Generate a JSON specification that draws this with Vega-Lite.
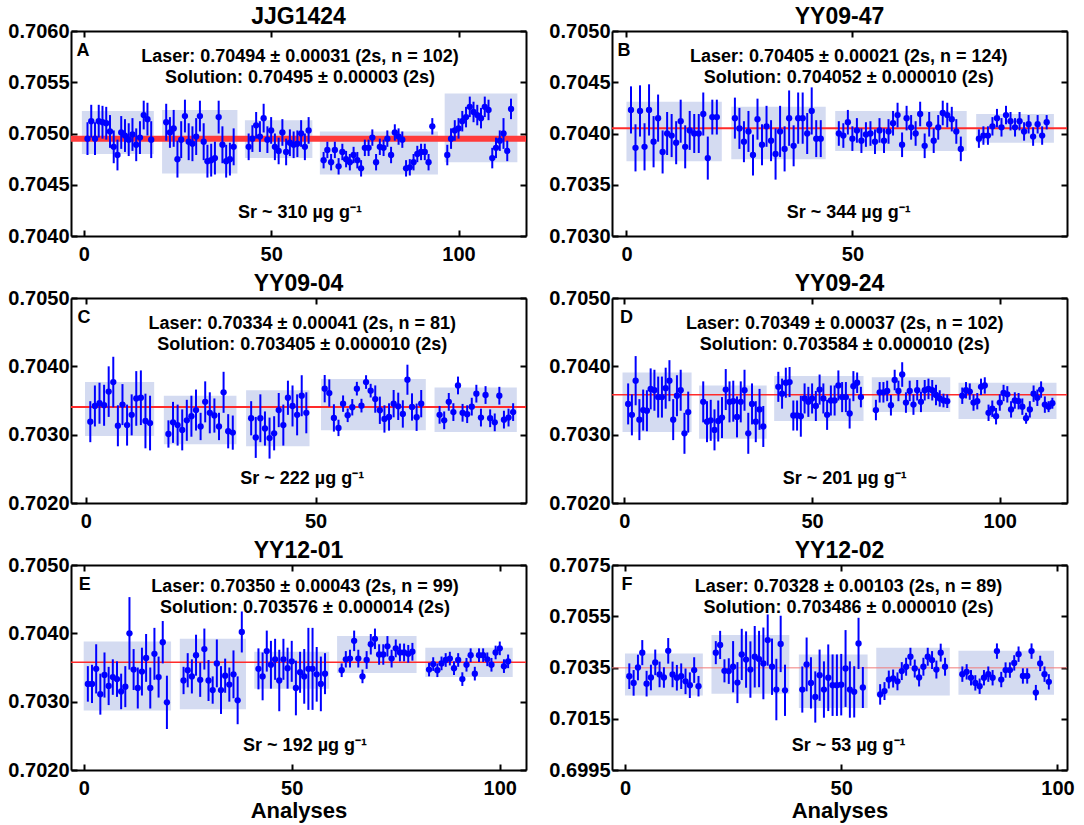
{
"$schema": "https://vega.github.io/schema/vega-lite/v6.json",
"background": "white",
"padding": {"left": 7, "top": 6, "right": 5, "bottom": 2},
"config": {
  "font": "Liberation Sans",
  "view": {"stroke": null},
  "axis": {"domain": true, "domainColor": "black", "domainWidth": 2, "grid": false, "labelFont": "Liberation Sans", "labelFontSize": 20, "labelFontWeight": "bold", "labelColor": "black", "tickColor": "black", "tickWidth": 2, "tickSize": -6, "labelPadding": 14, "titleFont": "Liberation Sans", "titleFontSize": 22, "titleFontWeight": "bold", "titleColor": "black", "titlePadding": 2},
  "axisY": {"labelPadding": 8},
  "title": {"font": "Liberation Sans", "fontSize": 23, "fontWeight": "bold", "color": "black", "anchor": "middle", "offset": -8},
  "text": {"font": "Liberation Sans", "fontSize": 18, "fontWeight": "bold", "color": "black", "baseline": "middle"}
},
"datasets": {
"one": [{}],
"pA": [{"x":1,"y":0.70495,"e":0.00016},{"x":2,"y":0.70512,"e":0.00016},{"x":3,"y":0.70495,"e":0.00016},{"x":4,"y":0.70512,"e":0.00016},{"x":5,"y":0.70511,"e":0.00016},{"x":6,"y":0.7051,"e":0.00016},{"x":7,"y":0.70502,"e":0.00016},{"x":8,"y":0.70487,"e":0.00016},{"x":9,"y":0.70479,"e":0.00015},{"x":10,"y":0.70501,"e":0.00016},{"x":11,"y":0.70498,"e":0.00016},{"x":12,"y":0.70494,"e":0.00016},{"x":13,"y":0.70499,"e":0.00016},{"x":14,"y":0.70489,"e":0.00016},{"x":15,"y":0.70496,"e":0.00016},{"x":16,"y":0.70518,"e":0.00014},{"x":17,"y":0.70514,"e":0.00016},{"x":18,"y":0.70494,"e":0.00018},
{"x":22,"y":0.70511,"e":0.00018},{"x":23,"y":0.70501,"e":0.00015},{"x":24,"y":0.70505,"e":0.00018},{"x":25,"y":0.70475,"e":0.00018},{"x":26,"y":0.70494,"e":0.00018},{"x":27,"y":0.70517,"e":0.00016},{"x":28,"y":0.70492,"e":0.00018},{"x":29,"y":0.7049,"e":0.00017},{"x":30,"y":0.70497,"e":0.00018},{"x":31,"y":0.70517,"e":0.00015},{"x":32,"y":0.70492,"e":0.00018},{"x":33,"y":0.70473,"e":0.00016},{"x":34,"y":0.70474,"e":0.00016},{"x":35,"y":0.70476,"e":0.00016},{"x":36,"y":0.70516,"e":0.00016},{"x":37,"y":0.70489,"e":0.00018},{"x":38,"y":0.70473,"e":0.00016},{"x":39,"y":0.70475,"e":0.00016},{"x":40,"y":0.70487,"e":0.00018},
{"x":44,"y":0.70487,"e":0.00013},{"x":45,"y":0.70495,"e":0.00013},{"x":46,"y":0.70508,"e":0.00013},{"x":47,"y":0.70497,"e":0.00015},{"x":48,"y":0.70515,"e":0.00014},{"x":49,"y":0.70494,"e":0.00013},{"x":50,"y":0.70503,"e":0.00013},{"x":51,"y":0.70487,"e":0.00013},{"x":52,"y":0.70483,"e":0.00013},{"x":53,"y":0.70501,"e":0.00013},{"x":54,"y":0.70482,"e":0.00013},{"x":55,"y":0.70491,"e":0.00013},{"x":56,"y":0.70489,"e":0.00013},{"x":57,"y":0.7049,"e":0.00013},{"x":58,"y":0.705,"e":0.00013},{"x":59,"y":0.70487,"e":0.00013},{"x":60,"y":0.70503,"e":0.00013},
{"x":64,"y":0.70474,"e":0.00008},{"x":65,"y":0.70484,"e":0.00008},{"x":66,"y":0.70472,"e":0.00008},{"x":67,"y":0.70484,"e":0.00008},{"x":68,"y":0.70468,"e":0.00008},{"x":69,"y":0.70482,"e":0.00008},{"x":70,"y":0.70475,"e":0.00008},{"x":71,"y":0.70472,"e":0.00008},{"x":72,"y":0.70479,"e":0.00008},{"x":73,"y":0.70474,"e":0.00008},{"x":74,"y":0.70466,"e":0.00008},{"x":75,"y":0.70486,"e":0.00008},{"x":76,"y":0.70486,"e":0.00008},{"x":77,"y":0.70496,"e":0.00008},{"x":78,"y":0.70472,"e":0.00008},{"x":79,"y":0.70487,"e":0.00008},{"x":80,"y":0.70486,"e":0.00008},{"x":81,"y":0.70495,"e":0.00008},{"x":82,"y":0.70479,"e":0.00008},{"x":83,"y":0.70501,"e":0.00008},{"x":84,"y":0.70497,"e":0.00008},{"x":85,"y":0.70494,"e":0.00008},{"x":86,"y":0.70466,"e":0.00008},{"x":87,"y":0.70467,"e":0.00008},{"x":88,"y":0.70472,"e":0.00008},{"x":89,"y":0.7048,"e":0.00008},{"x":90,"y":0.70482,"e":0.00008},{"x":91,"y":0.70482,"e":0.00008},{"x":92,"y":0.70472,"e":0.00008},{"x":93,"y":0.70507,"e":0.00008},
{"x":97,"y":0.70479,"e":0.0001},{"x":98,"y":0.70495,"e":0.0001},{"x":99,"y":0.70503,"e":0.0001},{"x":100,"y":0.70505,"e":0.0001},{"x":101,"y":0.70512,"e":0.0001},{"x":102,"y":0.70516,"e":0.0001},{"x":103,"y":0.70526,"e":0.0001},{"x":104,"y":0.70521,"e":0.0001},{"x":105,"y":0.70518,"e":0.0001},{"x":106,"y":0.70515,"e":0.0001},{"x":107,"y":0.70526,"e":0.0001},{"x":108,"y":0.70523,"e":0.0001},{"x":109,"y":0.70476,"e":0.0001},{"x":110,"y":0.70486,"e":0.0001},{"x":111,"y":0.70493,"e":0.0001},{"x":112,"y":0.705,"e":0.00015},{"x":113,"y":0.70483,"e":0.0001},{"x":114,"y":0.70524,"e":0.0001}],
"bA": [{"x1":-0.5,"x2":18.7,"y1":0.7048,"y2":0.70522},{"x1":20.9,"x2":41,"y1":0.70461,"y2":0.70523},{"x1":43,"x2":61,"y1":0.70476,"y2":0.70513},{"x1":63,"x2":94.5,"y1":0.7046,"y2":0.70502},{"x1":96.3,"x2":115.7,"y1":0.70472,"y2":0.70539}],
"pB": [{"x":1,"y":0.70423,"e":0.00023},{"x":2,"y":0.70386,"e":0.00023},{"x":3,"y":0.70422,"e":0.00025},{"x":4,"y":0.70387,"e":0.00023},{"x":5,"y":0.70423,"e":0.00025},{"x":6,"y":0.70392,"e":0.00025},{"x":7,"y":0.70415,"e":0.00023},{"x":8,"y":0.70382,"e":0.00021},{"x":9,"y":0.704,"e":0.00021},{"x":10,"y":0.70398,"e":0.00021},{"x":11,"y":0.70391,"e":0.00021},{"x":12,"y":0.70412,"e":0.00021},{"x":13,"y":0.70387,"e":0.00021},{"x":14,"y":0.70403,"e":0.00019},{"x":15,"y":0.704,"e":0.00019},{"x":16,"y":0.704,"e":0.00019},{"x":17,"y":0.70419,"e":0.00021},{"x":18,"y":0.70376,"e":0.00021},{"x":19,"y":0.70416,"e":0.00017},{"x":20,"y":0.70416,"e":0.00017},
{"x":24,"y":0.70415,"e":0.0002},{"x":25,"y":0.70405,"e":0.0002},{"x":26,"y":0.70392,"e":0.0002},{"x":27,"y":0.70402,"e":0.0002},{"x":28,"y":0.70379,"e":0.0002},{"x":29,"y":0.70414,"e":0.0002},{"x":30,"y":0.70389,"e":0.0002},{"x":31,"y":0.70407,"e":0.0002},{"x":32,"y":0.70393,"e":0.0002},{"x":33,"y":0.7038,"e":0.00025},{"x":34,"y":0.70402,"e":0.00025},{"x":35,"y":0.70385,"e":0.00022},{"x":36,"y":0.70415,"e":0.00027},{"x":37,"y":0.70388,"e":0.0002},{"x":38,"y":0.70415,"e":0.00025},{"x":39,"y":0.70415,"e":0.00025},{"x":40,"y":0.704,"e":0.0002},{"x":41,"y":0.70422,"e":0.00023},{"x":42,"y":0.70395,"e":0.00018},{"x":43,"y":0.70395,"e":0.00018},
{"x":47,"y":0.704,"e":0.00012},{"x":48,"y":0.70398,"e":0.00012},{"x":49,"y":0.70411,"e":0.00012},{"x":50,"y":0.70395,"e":0.00012},{"x":51,"y":0.70403,"e":0.00012},{"x":52,"y":0.70393,"e":0.00012},{"x":53,"y":0.70399,"e":0.00012},{"x":54,"y":0.704,"e":0.00012},{"x":55,"y":0.70392,"e":0.00012},{"x":56,"y":0.70403,"e":0.00012},{"x":57,"y":0.70393,"e":0.00012},{"x":58,"y":0.70402,"e":0.00012},{"x":59,"y":0.7041,"e":0.00012},{"x":60,"y":0.70418,"e":0.00012},{"x":61,"y":0.70389,"e":0.00012},{"x":62,"y":0.70415,"e":0.00012},{"x":63,"y":0.70406,"e":0.00012},{"x":64,"y":0.704,"e":0.00012},{"x":65,"y":0.70419,"e":0.00012},{"x":66,"y":0.70388,"e":0.00012},{"x":67,"y":0.70409,"e":0.00012},{"x":68,"y":0.70393,"e":0.00012},{"x":69,"y":0.70406,"e":0.00012},{"x":70,"y":0.7042,"e":0.00012},{"x":71,"y":0.70418,"e":0.00012},{"x":72,"y":0.70414,"e":0.00012},{"x":73,"y":0.70402,"e":0.00012},{"x":74,"y":0.70385,"e":0.00012},
{"x":78,"y":0.70395,"e":0.00009},{"x":79,"y":0.70398,"e":0.00009},{"x":80,"y":0.70398,"e":0.00009},{"x":81,"y":0.70407,"e":0.00009},{"x":82,"y":0.70415,"e":0.00009},{"x":83,"y":0.70406,"e":0.00009},{"x":84,"y":0.70418,"e":0.00009},{"x":85,"y":0.70412,"e":0.00009},{"x":86,"y":0.70406,"e":0.00009},{"x":87,"y":0.70412,"e":0.00009},{"x":88,"y":0.70402,"e":0.00009},{"x":89,"y":0.70409,"e":0.00009},{"x":90,"y":0.70397,"e":0.00009},{"x":91,"y":0.70409,"e":0.00009},{"x":92,"y":0.70398,"e":0.00009},{"x":93,"y":0.70411,"e":0.00007}],
"bB": [{"x1":0,"x2":21.1,"y1":0.70373,"y2":0.70431},{"x1":23.2,"x2":44.1,"y1":0.70375,"y2":0.70426},{"x1":46.2,"x2":75.3,"y1":0.70383,"y2":0.70422},{"x1":77.4,"x2":94.6,"y1":0.70391,"y2":0.70419}],
"pC": [{"x":1,"y":0.70319,"e":0.0003},{"x":2,"y":0.70342,"e":0.0003},{"x":3,"y":0.70346,"e":0.0003},{"x":4,"y":0.70343,"e":0.0003},{"x":5,"y":0.70363,"e":0.00037},{"x":6,"y":0.70377,"e":0.00037},{"x":7,"y":0.70313,"e":0.0003},{"x":8,"y":0.70344,"e":0.0003},{"x":9,"y":0.70314,"e":0.0003},{"x":10,"y":0.70329,"e":0.0003},{"x":11,"y":0.70353,"e":0.0004},{"x":12,"y":0.70354,"e":0.0004},{"x":13,"y":0.7032,"e":0.0004},{"x":14,"y":0.70317,"e":0.0004},
{"x":18,"y":0.70301,"e":0.0002},{"x":19,"y":0.70318,"e":0.0003},{"x":20,"y":0.70314,"e":0.0003},{"x":21,"y":0.70307,"e":0.0003},{"x":22,"y":0.70321,"e":0.0003},{"x":23,"y":0.70327,"e":0.0003},{"x":24,"y":0.70336,"e":0.0003},{"x":25,"y":0.70312,"e":0.0002},{"x":26,"y":0.70348,"e":0.0003},{"x":27,"y":0.70332,"e":0.0003},{"x":28,"y":0.70328,"e":0.00025},{"x":29,"y":0.70312,"e":0.0002},{"x":30,"y":0.70362,"e":0.0003},{"x":31,"y":0.70305,"e":0.00025},{"x":32,"y":0.70303,"e":0.00025},
{"x":36,"y":0.70324,"e":0.00025},{"x":37,"y":0.70296,"e":0.0003},{"x":38,"y":0.70324,"e":0.00035},{"x":39,"y":0.70309,"e":0.00025},{"x":40,"y":0.70295,"e":0.0003},{"x":41,"y":0.70302,"e":0.00025},{"x":42,"y":0.70336,"e":0.00025},{"x":43,"y":0.70314,"e":0.0003},{"x":44,"y":0.70354,"e":0.00025},{"x":45,"y":0.70342,"e":0.0003},{"x":46,"y":0.70329,"e":0.0003},{"x":47,"y":0.70357,"e":0.0003},{"x":48,"y":0.70332,"e":0.0003},
{"x":52,"y":0.703673,"e":0.0002},{"x":53,"y":0.703609,"e":0.0002},{"x":54,"y":0.703245,"e":0.0002},{"x":55,"y":0.703099,"e":0.00012},{"x":56,"y":0.703454,"e":0.00012},{"x":57,"y":0.703284,"e":0.0001},{"x":58,"y":0.703401,"e":0.00012},{"x":59,"y":0.703673,"e":0.0001},{"x":60,"y":0.703425,"e":0.0001},{"x":61,"y":0.70377,"e":0.0001},{"x":62,"y":0.703644,"e":0.0001},{"x":63,"y":0.703521,"e":0.0002},{"x":64,"y":0.703357,"e":0.0002},{"x":65,"y":0.70323,"e":0.0002},{"x":66,"y":0.703259,"e":0.0002},{"x":67,"y":0.703454,"e":0.0002},{"x":68,"y":0.703415,"e":0.0002},{"x":69,"y":0.703303,"e":0.0002},{"x":70,"y":0.703804,"e":0.00022},{"x":71,"y":0.703405,"e":0.0002},{"x":72,"y":0.703255,"e":0.0002},{"x":73,"y":0.703454,"e":0.0002},
{"x":77,"y":0.70329,"e":0.00013},{"x":78,"y":0.70321,"e":0.00013},{"x":79,"y":0.70348,"e":0.00013},{"x":80,"y":0.70333,"e":0.00013},{"x":81,"y":0.70372,"e":0.00013},{"x":82,"y":0.70332,"e":0.00013},{"x":83,"y":0.7033,"e":0.00013},{"x":84,"y":0.70341,"e":0.00013},{"x":85,"y":0.7036,"e":0.00013},{"x":86,"y":0.70325,"e":0.00013},{"x":87,"y":0.70358,"e":0.00013},{"x":88,"y":0.70324,"e":0.00013},{"x":89,"y":0.70318,"e":0.00013},{"x":90,"y":0.70357,"e":0.00013},{"x":91,"y":0.70322,"e":0.00013},{"x":92,"y":0.70325,"e":0.00013},{"x":93,"y":0.70333,"e":0.00013}],
"bC": [{"x1":-0.15,"x2":14.9,"y1":0.70298,"y2":0.70377},{"x1":17,"x2":32.8,"y1":0.70286,"y2":0.70357},{"x1":34.9,"x2":48.7,"y1":0.70283,"y2":0.70365},{"x1":51.2,"x2":74,"y1":0.703066,"y2":0.703813},{"x1":75.9,"x2":93.8,"y1":0.70304,"y2":0.70369}],
"pD": [{"x":1,"y":0.70345,"e":0.0003},{"x":2,"y":0.70329,"e":0.0003},{"x":3,"y":0.70379,"e":0.00036},{"x":4,"y":0.70322,"e":0.0003},{"x":5,"y":0.70336,"e":0.0003},{"x":6,"y":0.70335,"e":0.0003},{"x":7,"y":0.70367,"e":0.0003},{"x":8,"y":0.70365,"e":0.0003},{"x":9,"y":0.70355,"e":0.0003},{"x":10,"y":0.70355,"e":0.0003},{"x":11,"y":0.70368,"e":0.0003},{"x":12,"y":0.70379,"e":0.0003},{"x":13,"y":0.70322,"e":0.0003},{"x":14,"y":0.70357,"e":0.0003},{"x":15,"y":0.70365,"e":0.0003},{"x":16,"y":0.70302,"e":0.0003},{"x":17,"y":0.70333,"e":0.0003},
{"x":21,"y":0.70348,"e":0.0003},{"x":22,"y":0.70319,"e":0.0003},{"x":23,"y":0.70321,"e":0.0003},{"x":24,"y":0.70307,"e":0.0003},{"x":25,"y":0.7032,"e":0.0003},{"x":26,"y":0.70325,"e":0.0003},{"x":27,"y":0.70366,"e":0.0003},{"x":28,"y":0.70348,"e":0.0003},{"x":29,"y":0.70349,"e":0.0003},{"x":30,"y":0.70326,"e":0.0003},{"x":31,"y":0.70348,"e":0.0003},{"x":32,"y":0.70365,"e":0.0003},{"x":33,"y":0.70302,"e":0.0003},{"x":34,"y":0.70345,"e":0.0003},{"x":35,"y":0.70319,"e":0.0003},{"x":36,"y":0.70337,"e":0.0003},{"x":37,"y":0.70312,"e":0.0003},
{"x":41,"y":0.7037,"e":0.00022},{"x":42,"y":0.7036,"e":0.00022},{"x":43,"y":0.70376,"e":0.00022},{"x":44,"y":0.70377,"e":0.00022},{"x":45,"y":0.70328,"e":0.00022},{"x":46,"y":0.70328,"e":0.00022},{"x":47,"y":0.70327,"e":0.0003},{"x":48,"y":0.70353,"e":0.00022},{"x":49,"y":0.70348,"e":0.00022},{"x":50,"y":0.70353,"e":0.00022},{"x":51,"y":0.70342,"e":0.00022},{"x":52,"y":0.70366,"e":0.00022},{"x":53,"y":0.70353,"e":0.00022},{"x":54,"y":0.70329,"e":0.00022},{"x":55,"y":0.7035,"e":0.00022},{"x":56,"y":0.7035,"e":0.00022},{"x":57,"y":0.70372,"e":0.00022},{"x":58,"y":0.70355,"e":0.00022},{"x":59,"y":0.70355,"e":0.00022},{"x":60,"y":0.70331,"e":0.00022},{"x":61,"y":0.70371,"e":0.00022},{"x":62,"y":0.70376,"e":0.00015},{"x":63,"y":0.70355,"e":0.00015},
{"x":67,"y":0.70336,"e":0.00015},{"x":68,"y":0.70362,"e":0.00015},{"x":69,"y":0.70362,"e":0.00015},{"x":70,"y":0.70364,"e":0.00015},{"x":71,"y":0.70343,"e":0.00015},{"x":72,"y":0.7038,"e":0.00015},{"x":73,"y":0.70364,"e":0.00015},{"x":74,"y":0.70388,"e":0.00018},{"x":75,"y":0.70347,"e":0.00015},{"x":76,"y":0.70364,"e":0.00015},{"x":77,"y":0.70344,"e":0.00015},{"x":78,"y":0.70365,"e":0.00015},{"x":79,"y":0.70348,"e":0.00015},{"x":80,"y":0.70365,"e":0.00015},{"x":81,"y":0.70367,"e":0.00015},{"x":82,"y":0.70365,"e":0.00015},{"x":83,"y":0.70358,"e":0.00015},{"x":84,"y":0.70353,"e":0.00012},{"x":85,"y":0.7035,"e":0.0001},{"x":86,"y":0.70349,"e":0.0001},
{"x":90,"y":0.70357,"e":0.00012},{"x":91,"y":0.70365,"e":0.00012},{"x":92,"y":0.70363,"e":0.00012},{"x":93,"y":0.70347,"e":0.00012},{"x":94,"y":0.70349,"e":0.00012},{"x":95,"y":0.7037,"e":0.00012},{"x":96,"y":0.70372,"e":0.00012},{"x":97,"y":0.70332,"e":0.00012},{"x":98,"y":0.70338,"e":0.00012},{"x":99,"y":0.70327,"e":0.00012},{"x":100,"y":0.70347,"e":0.00012},{"x":101,"y":0.70361,"e":0.00012},{"x":102,"y":0.70359,"e":0.00012},{"x":103,"y":0.70337,"e":0.00012},{"x":104,"y":0.7035,"e":0.00012},{"x":105,"y":0.70349,"e":0.00012},{"x":106,"y":0.70341,"e":0.00012},{"x":107,"y":0.70324,"e":0.00008},{"x":108,"y":0.70337,"e":0.00012},{"x":109,"y":0.7036,"e":0.00012},{"x":110,"y":0.70354,"e":0.00012},{"x":111,"y":0.70366,"e":0.00012},{"x":112,"y":0.70344,"e":0.00012},{"x":113,"y":0.70341,"e":0.00008},{"x":114,"y":0.70346,"e":0.00008}],
"bD": [{"x1":-0.5,"x2":17.9,"y1":0.70304,"y2":0.70391},{"x1":19.9,"x2":37.9,"y1":0.70294,"y2":0.70372},{"x1":39.9,"x2":63.7,"y1":0.7032,"y2":0.70386},{"x1":65.9,"x2":86.8,"y1":0.70333,"y2":0.70384},{"x1":89,"x2":115.1,"y1":0.70323,"y2":0.70376}],
"pE": [{"x":1,"y":0.70326,"e":0.00026},{"x":2,"y":0.70326,"e":0.00028},{"x":3,"y":0.70348,"e":0.00036},{"x":4,"y":0.70311,"e":0.0003},{"x":5,"y":0.70339,"e":0.00033},{"x":6,"y":0.70323,"e":0.00028},{"x":7,"y":0.70336,"e":0.00026},{"x":8,"y":0.70333,"e":0.00026},{"x":9,"y":0.70315,"e":0.00026},{"x":10,"y":0.70322,"e":0.0003},{"x":11,"y":0.704,"e":0.00053},{"x":12,"y":0.70347,"e":0.0003},{"x":13,"y":0.7032,"e":0.0003},{"x":14,"y":0.70344,"e":0.00035},{"x":15,"y":0.70364,"e":0.00035},{"x":16,"y":0.7032,"e":0.0003},{"x":17,"y":0.7037,"e":0.00038},{"x":18,"y":0.70336,"e":0.0003},{"x":19,"y":0.70387,"e":0.00031},{"x":20,"y":0.70299,"e":0.00039},
{"x":24,"y":0.70331,"e":0.0002},{"x":25,"y":0.70346,"e":0.00025},{"x":26,"y":0.70337,"e":0.00025},{"x":27,"y":0.70368,"e":0.0003},{"x":28,"y":0.70332,"e":0.00025},{"x":29,"y":0.70377,"e":0.0003},{"x":30,"y":0.70331,"e":0.0003},{"x":31,"y":0.70317,"e":0.0002},{"x":32,"y":0.70356,"e":0.00035},{"x":33,"y":0.70317,"e":0.00035},{"x":34,"y":0.70338,"e":0.00025},{"x":35,"y":0.70325,"e":0.00025},{"x":36,"y":0.7034,"e":0.00035},{"x":37,"y":0.70302,"e":0.00035},{"x":38,"y":0.70402,"e":0.0003},
{"x":42,"y":0.70348,"e":0.0003},{"x":43,"y":0.70337,"e":0.00035},{"x":44,"y":0.70374,"e":0.0003},{"x":45,"y":0.70354,"e":0.00035},{"x":46,"y":0.70362,"e":0.0003},{"x":47,"y":0.70331,"e":0.00045},{"x":48,"y":0.70362,"e":0.0003},{"x":49,"y":0.70349,"e":0.0003},{"x":50,"y":0.70359,"e":0.0003},{"x":51,"y":0.7032,"e":0.0004},{"x":52,"y":0.70343,"e":0.0003},{"x":53,"y":0.70337,"e":0.0004},{"x":54,"y":0.70348,"e":0.0006},{"x":55,"y":0.70348,"e":0.0006},{"x":56,"y":0.7034,"e":0.0004},{"x":57,"y":0.70326,"e":0.0004},{"x":58,"y":0.70341,"e":0.0003},
{"x":62,"y":0.70346,"e":0.0001},{"x":63,"y":0.70362,"e":0.00012},{"x":64,"y":0.70363,"e":0.00013},{"x":65,"y":0.70389,"e":0.00015},{"x":66,"y":0.70363,"e":0.00013},{"x":67,"y":0.70337,"e":0.0001},{"x":68,"y":0.70361,"e":0.00013},{"x":69,"y":0.70384,"e":0.00015},{"x":70,"y":0.70392,"e":0.00015},{"x":71,"y":0.70369,"e":0.00015},{"x":72,"y":0.70369,"e":0.00015},{"x":73,"y":0.70381,"e":0.00015},{"x":74,"y":0.70363,"e":0.00013},{"x":75,"y":0.70378,"e":0.00013},{"x":76,"y":0.70372,"e":0.00013},{"x":77,"y":0.70372,"e":0.00013},{"x":78,"y":0.7037,"e":0.00013},{"x":79,"y":0.70373,"e":0.00013},
{"x":83,"y":0.70347,"e":0.0001},{"x":84,"y":0.70355,"e":0.0001},{"x":85,"y":0.70346,"e":0.0001},{"x":86,"y":0.70356,"e":0.0001},{"x":87,"y":0.70361,"e":0.0001},{"x":88,"y":0.70363,"e":0.0001},{"x":89,"y":0.70349,"e":0.0001},{"x":90,"y":0.70361,"e":0.0001},{"x":91,"y":0.70333,"e":0.0001},{"x":92,"y":0.70354,"e":0.0001},{"x":93,"y":0.70368,"e":0.0001},{"x":94,"y":0.70341,"e":0.0001},{"x":95,"y":0.70368,"e":0.0001},{"x":96,"y":0.70368,"e":0.0001},{"x":97,"y":0.70362,"e":0.0001},{"x":98,"y":0.70354,"e":0.0001},{"x":99,"y":0.70372,"e":0.0001},{"x":100,"y":0.70378,"e":0.0001},{"x":101,"y":0.70352,"e":0.0001},{"x":102,"y":0.70359,"e":0.0001}],
"bE": [{"x1":0,"x2":21,"y1":0.70287,"y2":0.70388},{"x1":23.1,"x2":39,"y1":0.70289,"y2":0.70392},{"x1":41,"x2":59,"y1":0.70319,"y2":0.70373},{"x1":60.9,"x2":80,"y1":0.70342,"y2":0.70396},{"x1":82.1,"x2":103.1,"y1":0.70336,"y2":0.70379}],
"pF": [{"x":1,"y":0.70316,"e":0.0005},{"x":2,"y":0.7029,"e":0.0005},{"x":3,"y":0.7035,"e":0.0005},{"x":4,"y":0.70408,"e":0.00049},{"x":5,"y":0.70287,"e":0.0005},{"x":6,"y":0.70311,"e":0.0005},{"x":7,"y":0.7037,"e":0.0005},{"x":8,"y":0.70323,"e":0.0005},{"x":9,"y":0.70311,"e":0.0004},{"x":10,"y":0.70415,"e":0.0005},{"x":11,"y":0.70323,"e":0.0005},{"x":12,"y":0.7031,"e":0.0005},{"x":13,"y":0.70316,"e":0.0005},{"x":14,"y":0.70296,"e":0.0005},{"x":15,"y":0.70281,"e":0.0005},{"x":16,"y":0.7034,"e":0.0005},{"x":17,"y":0.70277,"e":0.0004},
{"x":21,"y":0.70408,"e":0.00045},{"x":22,"y":0.70438,"e":0.00055},{"x":23,"y":0.70337,"e":0.00045},{"x":24,"y":0.70336,"e":0.0005},{"x":25,"y":0.70353,"e":0.001},{"x":26,"y":0.70291,"e":0.0008},{"x":27,"y":0.70401,"e":0.001},{"x":28,"y":0.70381,"e":0.0011},{"x":29,"y":0.70342,"e":0.0011},{"x":30,"y":0.70392,"e":0.0012},{"x":31,"y":0.70383,"e":0.0011},{"x":32,"y":0.70366,"e":0.0014},{"x":33,"y":0.70457,"e":0.001},{"x":34,"y":0.70353,"e":0.0011},{"x":35,"y":0.70264,"e":0.0012},{"x":36,"y":0.70442,"e":0.0011},{"x":37,"y":0.70261,"e":0.001},
{"x":41,"y":0.70264,"e":0.0009},{"x":42,"y":0.70362,"e":0.00105},{"x":43,"y":0.7029,"e":0.001},{"x":44,"y":0.70235,"e":0.001},{"x":45,"y":0.7032,"e":0.001},{"x":46,"y":0.70264,"e":0.0011},{"x":47,"y":0.7031,"e":0.0013},{"x":48,"y":0.70281,"e":0.0012},{"x":49,"y":0.70281,"e":0.0012},{"x":50,"y":0.70283,"e":0.0012},{"x":51,"y":0.70346,"e":0.0015},{"x":52,"y":0.70264,"e":0.0011},{"x":53,"y":0.70255,"e":0.001},{"x":54,"y":0.70444,"e":0.001},{"x":55,"y":0.70272,"e":0.0008},
{"x":59,"y":0.70245,"e":0.0004},{"x":60,"y":0.70258,"e":0.00035},{"x":61,"y":0.70303,"e":0.00035},{"x":62,"y":0.70307,"e":0.00035},{"x":63,"y":0.70296,"e":0.00035},{"x":64,"y":0.70336,"e":0.00035},{"x":65,"y":0.70353,"e":0.00035},{"x":66,"y":0.70392,"e":0.00035},{"x":67,"y":0.70346,"e":0.00035},{"x":68,"y":0.70311,"e":0.00035},{"x":69,"y":0.70353,"e":0.00035},{"x":70,"y":0.70392,"e":0.00035},{"x":71,"y":0.70379,"e":0.00035},{"x":72,"y":0.70342,"e":0.00035},{"x":73,"y":0.70408,"e":0.00035},{"x":74,"y":0.70353,"e":0.00035},
{"x":78,"y":0.70324,"e":0.0003},{"x":79,"y":0.70333,"e":0.0003},{"x":80,"y":0.7031,"e":0.0003},{"x":81,"y":0.7029,"e":0.0003},{"x":82,"y":0.70277,"e":0.0003},{"x":83,"y":0.7031,"e":0.0003},{"x":84,"y":0.70324,"e":0.0003},{"x":85,"y":0.7031,"e":0.0003},{"x":86,"y":0.70414,"e":0.0003},{"x":87,"y":0.70303,"e":0.0003},{"x":88,"y":0.7034,"e":0.0003},{"x":89,"y":0.7034,"e":0.0003},{"x":90,"y":0.70368,"e":0.0003},{"x":91,"y":0.70402,"e":0.0003},{"x":92,"y":0.70317,"e":0.0003},{"x":93,"y":0.70317,"e":0.0003},{"x":94,"y":0.70414,"e":0.0003},{"x":95,"y":0.70252,"e":0.0003},{"x":96,"y":0.70366,"e":0.0003},{"x":97,"y":0.70324,"e":0.0003},{"x":98,"y":0.70294,"e":0.0003}],
"bF": [{"x1":0,"x2":18,"y1":0.70241,"y2":0.70405},{"x1":20,"x2":38,"y1":0.70248,"y2":0.70477},{"x1":40.2,"x2":56.1,"y1":0.70192,"y2":0.70401},{"x1":58.1,"x2":75.1,"y1":0.70241,"y2":0.70427},{"x1":77.1,"x2":99.2,"y1":0.70244,"y2":0.70415}]
},
"columns": 2,
"spacing": {"row": 9, "column": 19},
"concat": [
{
 "title": {"text": "JJG1424"}, "width": 455, "height": 205,
 "resolve": {"axis": {"x": "independent", "y": "independent"}},
 "layer": [
  {"data": {"name": "bA"}, "mark": {"type": "rect", "color": "#d4dbf1"},
   "encoding": {"x": {"field": "x1", "type": "quantitative", "scale": {"domain": [-3.4, 118], "nice": false, "zero": false}, "axis": {"orient": "top", "labels": false, "title": null, "values": [0, 50, 100], "minExtent": 0, "maxExtent": 0}}, "x2": {"field": "x2"},
    "y": {"field": "y1", "type": "quantitative", "scale": {"domain": [0.704, 0.706], "nice": false, "zero": false}, "axis": {"orient": "right", "labels": false, "title": null, "values": [0.704, 0.7045, 0.705, 0.7055, 0.706], "minExtent": 0, "maxExtent": 0}}, "y2": {"field": "y2"}}},
  {"data": {"name": "one"}, "mark": {"type": "rule", "color": "#ff3a3a", "strokeWidth": 6}, "encoding": {"y": {"datum": 0.70495, "type": "quantitative", "axis": null}}},
  {"data": {"name": "pA"}, "mark": {"type": "errorbar", "color": "#0000ff", "thickness": 2},
   "encoding": {"x": {"field": "x", "type": "quantitative", "axis": null}, "y": {"field": "y", "type": "quantitative", "axis": null}, "yError": {"field": "e"}}},
  {"data": {"name": "pA"}, "mark": {"type": "point", "filled": true, "size": 40, "color": "#0000ff", "opacity": 1},
   "encoding": {"x": {"field": "x", "type": "quantitative", "axis": {"orient": "bottom", "values": [0, 50, 100], "format": "d", "title": null}}, "y": {"field": "y", "type": "quantitative", "axis": {"orient": "left", "values": [0.704, 0.7045, 0.705, 0.7055, 0.706], "format": ".4f", "title": null}}}},
  {"data": {"name": "one"}, "mark": {"type": "text", "text": "A", "align": "left"}, "encoding": {"x": {"datum": -1.9, "type": "quantitative", "axis": null}, "y": {"datum": 0.705806, "type": "quantitative", "axis": null}}},
  {"data": {"name": "one"}, "mark": {"type": "text", "text": "Laser: 0.70494 ± 0.00031 (2s, n = 102)", "align": "center"}, "encoding": {"x": {"datum": 57.7, "type": "quantitative", "axis": null}, "y": {"datum": 0.705742, "type": "quantitative", "axis": null}}},
  {"data": {"name": "one"}, "mark": {"type": "text", "text": "Solution: 0.70495 ± 0.00003 (2s)", "align": "center"}, "encoding": {"x": {"datum": 57.7, "type": "quantitative", "axis": null}, "y": {"datum": 0.705542, "type": "quantitative", "axis": null}}},
  {"data": {"name": "one"}, "mark": {"type": "text", "text": "Sr ~ 310 µg g⁻¹", "align": "center"}, "encoding": {"x": {"datum": 57.7, "type": "quantitative", "axis": null}, "y": {"datum": 0.704228, "type": "quantitative", "axis": null}}}
 ]
},
{
 "title": {"text": "YY09-47"}, "width": 455, "height": 205,
 "resolve": {"axis": {"x": "independent", "y": "independent"}},
 "layer": [
  {"data": {"name": "bB"}, "mark": {"type": "rect", "color": "#d4dbf1"},
   "encoding": {"x": {"field": "x1", "type": "quantitative", "scale": {"domain": [-3.2, 97.5], "nice": false, "zero": false}, "axis": {"orient": "top", "labels": false, "title": null, "values": [0, 50], "minExtent": 0, "maxExtent": 0}}, "x2": {"field": "x2"},
    "y": {"field": "y1", "type": "quantitative", "scale": {"domain": [0.703, 0.705], "nice": false, "zero": false}, "axis": {"orient": "right", "labels": false, "title": null, "values": [0.703, 0.7035, 0.704, 0.7045, 0.705], "minExtent": 0, "maxExtent": 0}}, "y2": {"field": "y2"}}},
  {"data": {"name": "one"}, "mark": {"type": "rule", "color": "#ff2a2a", "strokeWidth": 2}, "encoding": {"y": {"datum": 0.704052, "type": "quantitative", "axis": null}}},
  {"data": {"name": "pB"}, "mark": {"type": "errorbar", "color": "#0000ff", "thickness": 2},
   "encoding": {"x": {"field": "x", "type": "quantitative", "axis": null}, "y": {"field": "y", "type": "quantitative", "axis": null}, "yError": {"field": "e"}}},
  {"data": {"name": "pB"}, "mark": {"type": "point", "filled": true, "size": 40, "color": "#0000ff", "opacity": 1},
   "encoding": {"x": {"field": "x", "type": "quantitative", "axis": {"orient": "bottom", "values": [0, 50], "format": "d", "title": null}}, "y": {"field": "y", "type": "quantitative", "axis": {"orient": "left", "values": [0.703, 0.7035, 0.704, 0.7045, 0.705], "format": ".4f", "title": null}}}},
  {"data": {"name": "one"}, "mark": {"type": "text", "text": "B", "align": "left"}, "encoding": {"x": {"datum": -2.0, "type": "quantitative", "axis": null}, "y": {"datum": 0.704806, "type": "quantitative", "axis": null}}},
  {"data": {"name": "one"}, "mark": {"type": "text", "text": "Laser: 0.70405 ± 0.00021 (2s, n = 124)", "align": "center"}, "encoding": {"x": {"datum": 49.2, "type": "quantitative", "axis": null}, "y": {"datum": 0.704742, "type": "quantitative", "axis": null}}},
  {"data": {"name": "one"}, "mark": {"type": "text", "text": "Solution: 0.704052 ± 0.000010 (2s)", "align": "center"}, "encoding": {"x": {"datum": 49.2, "type": "quantitative", "axis": null}, "y": {"datum": 0.704542, "type": "quantitative", "axis": null}}},
  {"data": {"name": "one"}, "mark": {"type": "text", "text": "Sr ~ 344 µg g⁻¹", "align": "center"}, "encoding": {"x": {"datum": 49.2, "type": "quantitative", "axis": null}, "y": {"datum": 0.703228, "type": "quantitative", "axis": null}}}
 ]
},
{
 "title": {"text": "YY09-04"}, "width": 455, "height": 205,
 "resolve": {"axis": {"x": "independent", "y": "independent"}},
 "layer": [
  {"data": {"name": "bC"}, "mark": {"type": "rect", "color": "#d4dbf1"},
   "encoding": {"x": {"field": "x1", "type": "quantitative", "scale": {"domain": [-3.2, 95.8], "nice": false, "zero": false}, "axis": {"orient": "top", "labels": false, "title": null, "values": [0, 50], "minExtent": 0, "maxExtent": 0}}, "x2": {"field": "x2"},
    "y": {"field": "y1", "type": "quantitative", "scale": {"domain": [0.702, 0.705], "nice": false, "zero": false}, "axis": {"orient": "right", "labels": false, "title": null, "values": [0.702, 0.703, 0.704, 0.705], "minExtent": 0, "maxExtent": 0}}, "y2": {"field": "y2"}}},
  {"data": {"name": "one"}, "mark": {"type": "rule", "color": "#ff2a2a", "strokeWidth": 2}, "encoding": {"y": {"datum": 0.703405, "type": "quantitative", "axis": null}}},
  {"data": {"name": "pC"}, "mark": {"type": "errorbar", "color": "#0000ff", "thickness": 2},
   "encoding": {"x": {"field": "x", "type": "quantitative", "axis": null}, "y": {"field": "y", "type": "quantitative", "axis": null}, "yError": {"field": "e"}}},
  {"data": {"name": "pC"}, "mark": {"type": "point", "filled": true, "size": 40, "color": "#0000ff", "opacity": 1},
   "encoding": {"x": {"field": "x", "type": "quantitative", "axis": {"orient": "bottom", "values": [0, 50], "format": "d", "title": null}}, "y": {"field": "y", "type": "quantitative", "axis": {"orient": "left", "values": [0.702, 0.703, 0.704, 0.705], "format": ".4f", "title": null}}}},
  {"data": {"name": "one"}, "mark": {"type": "text", "text": "C", "align": "left"}, "encoding": {"x": {"datum": -1.8, "type": "quantitative", "axis": null}, "y": {"datum": 0.704709, "type": "quantitative", "axis": null}}},
  {"data": {"name": "one"}, "mark": {"type": "text", "text": "Laser: 0.70334 ± 0.00041 (2s, n = 81)", "align": "center"}, "encoding": {"x": {"datum": 47.1, "type": "quantitative", "axis": null}, "y": {"datum": 0.704613, "type": "quantitative", "axis": null}}},
  {"data": {"name": "one"}, "mark": {"type": "text", "text": "Solution: 0.703405 ± 0.000010 (2s)", "align": "center"}, "encoding": {"x": {"datum": 47.1, "type": "quantitative", "axis": null}, "y": {"datum": 0.704313, "type": "quantitative", "axis": null}}},
  {"data": {"name": "one"}, "mark": {"type": "text", "text": "Sr ~ 222 µg g⁻¹", "align": "center"}, "encoding": {"x": {"datum": 47.1, "type": "quantitative", "axis": null}, "y": {"datum": 0.702345, "type": "quantitative", "axis": null}}}
 ]
},
{
 "title": {"text": "YY09-24"}, "width": 455, "height": 205,
 "resolve": {"axis": {"x": "independent", "y": "independent"}},
 "layer": [
  {"data": {"name": "bD"}, "mark": {"type": "rect", "color": "#d4dbf1"},
   "encoding": {"x": {"field": "x1", "type": "quantitative", "scale": {"domain": [-3.3, 117.9], "nice": false, "zero": false}, "axis": {"orient": "top", "labels": false, "title": null, "values": [0, 50, 100], "minExtent": 0, "maxExtent": 0}}, "x2": {"field": "x2"},
    "y": {"field": "y1", "type": "quantitative", "scale": {"domain": [0.702, 0.705], "nice": false, "zero": false}, "axis": {"orient": "right", "labels": false, "title": null, "values": [0.702, 0.703, 0.704, 0.705], "minExtent": 0, "maxExtent": 0}}, "y2": {"field": "y2"}}},
  {"data": {"name": "one"}, "mark": {"type": "rule", "color": "#ff2a2a", "strokeWidth": 1.5}, "encoding": {"y": {"datum": 0.703584, "type": "quantitative", "axis": null}}},
  {"data": {"name": "pD"}, "mark": {"type": "errorbar", "color": "#0000ff", "thickness": 2},
   "encoding": {"x": {"field": "x", "type": "quantitative", "axis": null}, "y": {"field": "y", "type": "quantitative", "axis": null}, "yError": {"field": "e"}}},
  {"data": {"name": "pD"}, "mark": {"type": "point", "filled": true, "size": 40, "color": "#0000ff", "opacity": 1},
   "encoding": {"x": {"field": "x", "type": "quantitative", "axis": {"orient": "bottom", "values": [0, 50, 100], "format": "d", "title": null}}, "y": {"field": "y", "type": "quantitative", "axis": {"orient": "left", "values": [0.702, 0.703, 0.704, 0.705], "format": ".4f", "title": null}}}},
  {"data": {"name": "one"}, "mark": {"type": "text", "text": "D", "align": "left"}, "encoding": {"x": {"datum": -1.2, "type": "quantitative", "axis": null}, "y": {"datum": 0.704709, "type": "quantitative", "axis": null}}},
  {"data": {"name": "one"}, "mark": {"type": "text", "text": "Laser: 0.70349 ± 0.00037 (2s, n = 102)", "align": "center"}, "encoding": {"x": {"datum": 58.7, "type": "quantitative", "axis": null}, "y": {"datum": 0.704613, "type": "quantitative", "axis": null}}},
  {"data": {"name": "one"}, "mark": {"type": "text", "text": "Solution: 0.703584 ± 0.000010 (2s)", "align": "center"}, "encoding": {"x": {"datum": 58.7, "type": "quantitative", "axis": null}, "y": {"datum": 0.704313, "type": "quantitative", "axis": null}}},
  {"data": {"name": "one"}, "mark": {"type": "text", "text": "Sr ~ 201 µg g⁻¹", "align": "center"}, "encoding": {"x": {"datum": 58.7, "type": "quantitative", "axis": null}, "y": {"datum": 0.702345, "type": "quantitative", "axis": null}}}
 ]
},
{
 "title": {"text": "YY12-01"}, "width": 455, "height": 205,
 "resolve": {"axis": {"x": "independent", "y": "independent"}},
 "layer": [
  {"data": {"name": "bE"}, "mark": {"type": "rect", "color": "#d4dbf1"},
   "encoding": {"x": {"field": "x1", "type": "quantitative", "scale": {"domain": [-3.05, 106.3], "nice": false, "zero": false}, "axis": {"orient": "top", "labels": false, "title": null, "values": [0, 50, 100], "minExtent": 0, "maxExtent": 0}}, "x2": {"field": "x2"},
    "y": {"field": "y1", "type": "quantitative", "scale": {"domain": [0.702, 0.705], "nice": false, "zero": false}, "axis": {"orient": "right", "labels": false, "title": null, "values": [0.702, 0.703, 0.704, 0.705], "minExtent": 0, "maxExtent": 0}}, "y2": {"field": "y2"}}},
  {"data": {"name": "one"}, "mark": {"type": "rule", "color": "#ff2a2a", "strokeWidth": 1.5}, "encoding": {"y": {"datum": 0.703576, "type": "quantitative", "axis": null}}},
  {"data": {"name": "pE"}, "mark": {"type": "errorbar", "color": "#0000ff", "thickness": 2},
   "encoding": {"x": {"field": "x", "type": "quantitative", "axis": null}, "y": {"field": "y", "type": "quantitative", "axis": null}, "yError": {"field": "e"}}},
  {"data": {"name": "pE"}, "mark": {"type": "point", "filled": true, "size": 40, "color": "#0000ff", "opacity": 1},
   "encoding": {"x": {"field": "x", "type": "quantitative", "axis": {"orient": "bottom", "values": [0, 50, 100], "format": "d", "title": "Analyses"}}, "y": {"field": "y", "type": "quantitative", "axis": {"orient": "left", "values": [0.702, 0.703, 0.704, 0.705], "format": ".4f", "title": null}}}},
  {"data": {"name": "one"}, "mark": {"type": "text", "text": "E", "align": "left"}, "encoding": {"x": {"datum": -1.2, "type": "quantitative", "axis": null}, "y": {"datum": 0.704709, "type": "quantitative", "axis": null}}},
  {"data": {"name": "one"}, "mark": {"type": "text", "text": "Laser: 0.70350 ± 0.00043 (2s, n = 99)", "align": "center"}, "encoding": {"x": {"datum": 53.2, "type": "quantitative", "axis": null}, "y": {"datum": 0.704685, "type": "quantitative", "axis": null}}},
  {"data": {"name": "one"}, "mark": {"type": "text", "text": "Solution: 0.703576 ± 0.000014 (2s)", "align": "center"}, "encoding": {"x": {"datum": 53.2, "type": "quantitative", "axis": null}, "y": {"datum": 0.704373, "type": "quantitative", "axis": null}}},
  {"data": {"name": "one"}, "mark": {"type": "text", "text": "Sr ~ 192 µg g⁻¹", "align": "center"}, "encoding": {"x": {"datum": 53.2, "type": "quantitative", "axis": null}, "y": {"datum": 0.702351, "type": "quantitative", "axis": null}}}
 ]
},
{
 "title": {"text": "YY12-02"}, "width": 455, "height": 205,
 "resolve": {"axis": {"x": "independent", "y": "independent"}},
 "layer": [
  {"data": {"name": "bF"}, "mark": {"type": "rect", "color": "#d4dbf1"},
   "encoding": {"x": {"field": "x1", "type": "quantitative", "scale": {"domain": [-3, 102.2], "nice": false, "zero": false}, "axis": {"orient": "top", "labels": false, "title": null, "values": [0, 50, 100], "minExtent": 0, "maxExtent": 0}}, "x2": {"field": "x2"},
    "y": {"field": "y1", "type": "quantitative", "scale": {"domain": [0.6995, 0.7075], "nice": false, "zero": false}, "axis": {"orient": "right", "labels": false, "title": null, "values": [0.6995, 0.7015, 0.7035, 0.7055, 0.7075], "minExtent": 0, "maxExtent": 0}}, "y2": {"field": "y2"}}},
  {"data": {"name": "one"}, "mark": {"type": "rule", "color": "#f07a7a", "strokeWidth": 1}, "encoding": {"y": {"datum": 0.703486, "type": "quantitative", "axis": null}}},
  {"data": {"name": "pF"}, "mark": {"type": "errorbar", "color": "#0000ff", "thickness": 2},
   "encoding": {"x": {"field": "x", "type": "quantitative", "axis": null}, "y": {"field": "y", "type": "quantitative", "axis": null}, "yError": {"field": "e"}}},
  {"data": {"name": "pF"}, "mark": {"type": "point", "filled": true, "size": 40, "color": "#0000ff", "opacity": 1},
   "encoding": {"x": {"field": "x", "type": "quantitative", "axis": {"orient": "bottom", "values": [0, 50, 100], "format": "d", "title": "Analyses"}}, "y": {"field": "y", "type": "quantitative", "axis": {"orient": "left", "values": [0.6995, 0.7015, 0.7035, 0.7055, 0.7075], "format": ".4f", "title": null}}}},
  {"data": {"name": "one"}, "mark": {"type": "text", "text": "F", "align": "left"}, "encoding": {"x": {"datum": -0.8, "type": "quantitative", "axis": null}, "y": {"datum": 0.706724, "type": "quantitative", "axis": null}}},
  {"data": {"name": "one"}, "mark": {"type": "text", "text": "Laser: 0.70328 ± 0.00103 (2s, n = 89)", "align": "center"}, "encoding": {"x": {"datum": 51.7, "type": "quantitative", "axis": null}, "y": {"datum": 0.70666, "type": "quantitative", "axis": null}}},
  {"data": {"name": "one"}, "mark": {"type": "text", "text": "Solution: 0.703486 ± 0.000010 (2s)", "align": "center"}, "encoding": {"x": {"datum": 51.7, "type": "quantitative", "axis": null}, "y": {"datum": 0.705828, "type": "quantitative", "axis": null}}},
  {"data": {"name": "one"}, "mark": {"type": "text", "text": "Sr ~ 53 µg g⁻¹", "align": "center"}, "encoding": {"x": {"datum": 51.7, "type": "quantitative", "axis": null}, "y": {"datum": 0.700436, "type": "quantitative", "axis": null}}}
 ]
}
]
}
